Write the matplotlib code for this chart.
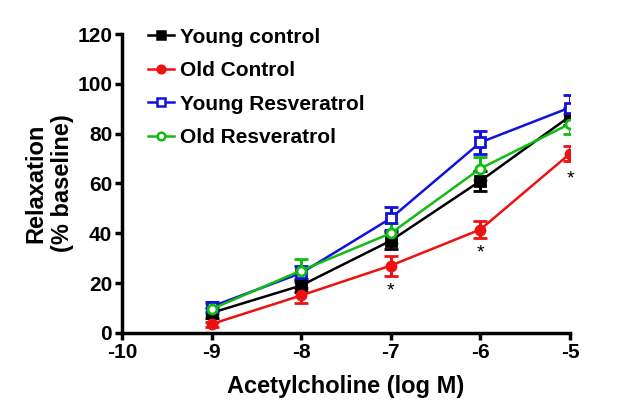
import numpy as np
import matplotlib.pyplot as plt
from matplotlib.lines import Line2D

plt.rcParams['font.family'] = ['Liberation Sans', 'DejaVu Sans']
plt.rcParams['font.weight'] = 'bold'
plt.rcParams['axes.unicode_minus'] = False

dose = [-9, -8, -7, -6, -5]

young_ctrl = [8, 19, 37, 61, 87]
young_ctrl_err = [2, 2.5, 3.5, 4, 3.5]
old_ctrl = [3.5, 15, 27, 41.5, 72]
old_ctrl_err = [1, 3, 4, 3.5, 3]
young_resv = [10.5, 24, 46, 76.5, 90.5]
young_resv_err = [2, 3, 4.5, 4.5, 5]
old_resv = [9.5, 25, 40, 66, 84]
old_resv_err = [2, 4.5, 4, 4.5, 4]

star_x = [-7, -6, -5]
star_y = [17, 32, 62]

fig = plt.figure(figsize=(6.25, 4.16), dpi=100)
ax = fig.add_axes([0.195, 0.2, 0.717, 0.718])

series = [
    (young_ctrl, young_ctrl_err, 'black', 's', 'black', 'Young control'),
    (old_ctrl, old_ctrl_err, '#ee1111', 'o', '#ee1111', 'Old Control'),
    (young_resv, young_resv_err, '#1111dd', 's', 'white', 'Young Resveratrol'),
    (old_resv, old_resv_err, '#11bb11', 'o', 'white', 'Old Resveratrol'),
]
handles = []
for y, e, c, m, fc, lab in series:
    ax.errorbar(dose, y, yerr=e, color=c, marker=m, markersize=6.5,
                markerfacecolor=fc, markeredgecolor=c, markeredgewidth=2,
                lw=1.8, elinewidth=2.2, capsize=5, capthick=2.2)
    handles.append(Line2D([], [], color=c, marker=m, markersize=5.5,
                          markerfacecolor=fc, markeredgecolor=c,
                          markeredgewidth=1.8, lw=1.8, label=lab))

for sx, sy in zip(star_x, star_y):
    ax.text(sx, sy, '*', ha='center', va='center', fontsize=14, fontweight='normal')

ax.set_xlim(-10, -5)
ax.set_ylim(0, 120)
ax.set_xticks([-10, -9, -8, -7, -6, -5])
ax.set_yticks([0, 20, 40, 60, 80, 100, 120])
ax.spines['top'].set_visible(False)
ax.spines['right'].set_visible(False)
ax.spines['left'].set_linewidth(2.5)
ax.spines['bottom'].set_linewidth(2.5)
ax.tick_params(width=2.5, length=5, labelsize=15, pad=2)
for t in ax.get_xticklabels() + ax.get_yticklabels():
    t.set_fontweight('bold')

ax.set_xlabel('Acetylcholine (log M)', fontsize=17, fontweight='bold', labelpad=10)
ax.set_ylabel('Relaxation\n(% baseline)', fontsize=17, fontweight='bold', labelpad=2)

leg = ax.legend(handles=handles, loc='upper left', bbox_to_anchor=(0.04, 1.05),
                frameon=False, fontsize=15, handlelength=1.25, handletextpad=0.3,
                labelspacing=0.7, borderaxespad=0)
for t in leg.get_texts():
    t.set_fontweight('bold')

fig.savefig('out.png', dpi=100)
